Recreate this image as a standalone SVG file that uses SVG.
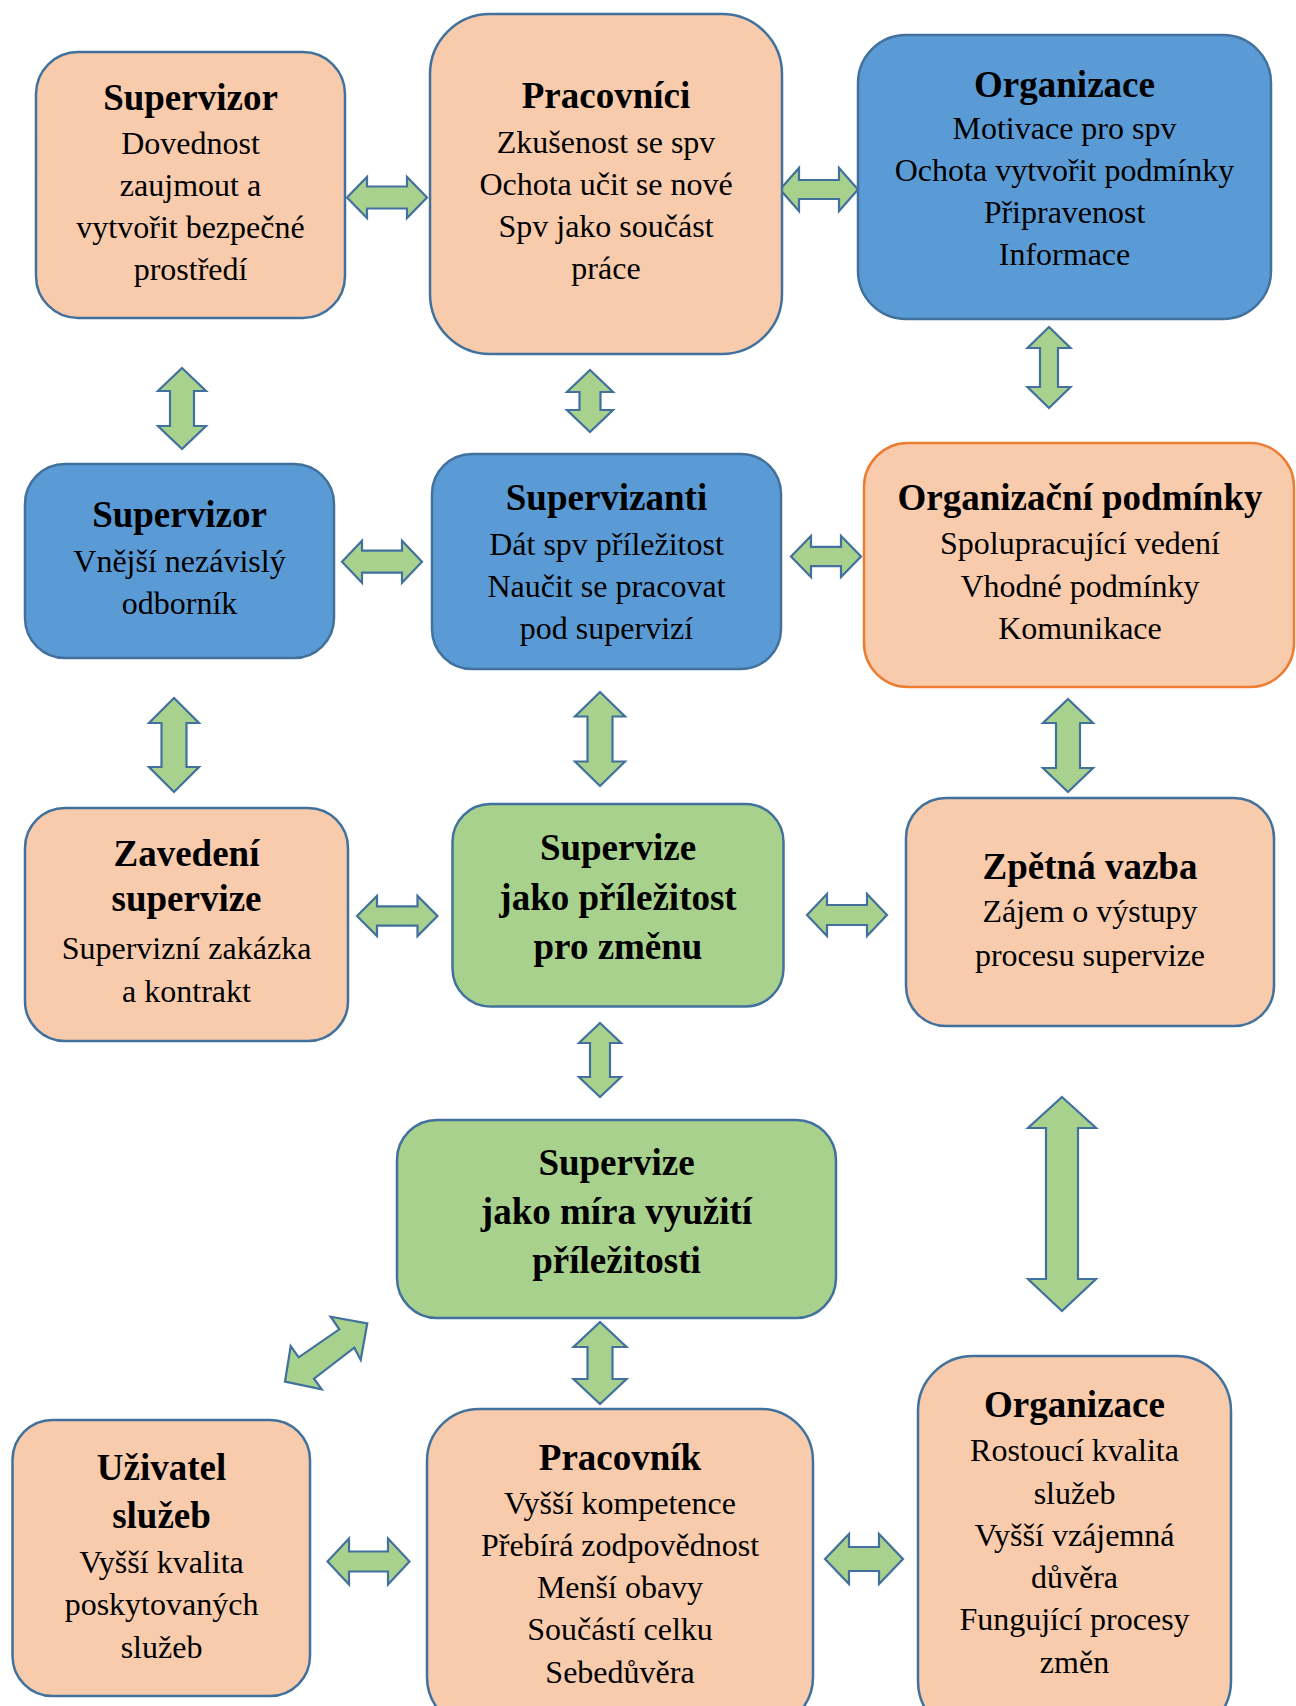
<svg xmlns="http://www.w3.org/2000/svg" width="1296" height="1706" viewBox="0 0 1296 1706">
  <style>
    .peach { fill: #F8CBAD; stroke: #41719C; stroke-width: 2.5; }
    .blue { fill: #5B9BD5; stroke: #41719C; stroke-width: 2.5; }
    .green { fill: #A9D18E; stroke: #41719C; stroke-width: 2.5; }
    .orange { fill: #F8CBAD; stroke: #ED7D31; stroke-width: 2.5; }
    .arrow { fill: #A9D18E; stroke: #41719C; stroke-width: 2.2; stroke-linejoin: miter; }
    text { font-family: "Liberation Serif", "Times New Roman", serif; fill: #000; text-anchor: middle; }
    .t { font-size: 37px; font-weight: bold; }
    .b { font-size: 32px; }
  </style>
  <rect width="1296" height="1706" fill="#FFFFFF"/>

  <!-- connectors: block double arrows -->
  <g id="connectors">
    <!-- horizontal -->
    <polygon class="arrow" points="347,197.5 367,177 367,186.5 407,186.5 407,177 427,197.5 407,218 407,208.5 367,208.5 367,218"/>
    <polygon class="arrow" points="780,189.5 799,168 799,180 839,180 839,168 858,189.5 839,211 839,199 799,199 799,211"/>
    <polygon class="arrow" points="342,561.7 362,540.7 362,550.7 402,550.7 402,540.7 422,561.7 402,582.7 402,572.7 362,572.7 362,582.7"/>
    <polygon class="arrow" points="791,556.5 811,536 811,546.8 841,546.8 841,536 861,556.5 841,577 841,566.2 811,566.2 811,577"/>
    <polygon class="arrow" points="357,916 377,896 377,906.3 417.5,906.3 417.5,896 437.5,916 417.5,936 417.5,925.7 377,925.7 377,936"/>
    <polygon class="arrow" points="807,915 827,894 827,905 867,905 867,894 887,915 867,936 867,925 827,925 827,936"/>
    <polygon class="arrow" points="327.5,1561.5 349,1538.5 349,1551.5 388,1551.5 388,1538.5 409.5,1561.5 388,1584.5 388,1571.5 349,1571.5 349,1584.5"/>
    <polygon class="arrow" points="825,1559 849,1534 849,1547 879,1547 879,1534 903,1559 879,1584 879,1571 849,1571 849,1584"/>
    <!-- vertical -->
    <polygon class="arrow" points="182,368 206,391 194,391 194,426 206,426 182,449 158,426 170,426 170,391 158,391"/>
    <polygon class="arrow" points="590,370 613,392 600.5,392 600.5,410 613,410 590,432 567,410 579.5,410 579.5,392 567,392"/>
    <polygon class="arrow" points="1049,327 1070.5,348 1058,348 1058,387 1070.5,387 1049,408 1027.5,387 1040,387 1040,348 1027.5,348"/>
    <polygon class="arrow" points="174,698 199,723 186.5,723 186.5,767 199,767 174,792 149,767 161.5,767 161.5,723 149,723"/>
    <polygon class="arrow" points="600,692 625,716.5 612.5,716.5 612.5,761.5 625,761.5 600,786 575,761.5 587.5,761.5 587.5,716.5 575,716.5"/>
    <polygon class="arrow" points="1068,699 1093,723 1080,723 1080,768 1093,768 1068,792 1043,768 1056,768 1056,723 1043,723"/>
    <polygon class="arrow" points="600,1023 621,1043 610,1043 610,1077 621,1077 600,1097 579,1077 590,1077 590,1043 579,1043"/>
    <polygon class="arrow" points="1062,1097 1096,1128 1078,1128 1078,1279 1096,1279 1062,1311 1028,1279 1046,1279 1046,1128 1028,1128"/>
    <polygon class="arrow" points="600,1322 626.5,1347 612.5,1347 612.5,1379 626.5,1379 600,1404 573.5,1379 587.5,1379 587.5,1347 573.5,1347"/>
    <!-- diagonal -->
    <polygon class="arrow" points="367.3,1323.3 360.7,1360 354.3,1347.7 314,1378.7 321.7,1389.3 285,1381.7 290.7,1346 298.7,1357.3 339.3,1329.3 330.7,1316.7"/>
  </g>

  <g id="supervizor-top">
    <rect class="peach" x="36" y="52" width="309" height="266" rx="42" ry="42"/>
    <text class="t" x="190.5" y="110">Supervizor</text>
    <text class="b" x="190.5" y="154">Dovednost</text>
    <text class="b" x="190.5" y="196">zaujmout a</text>
    <text class="b" x="190.5" y="238">vytvořit bezpečné</text>
    <text class="b" x="190.5" y="280">prostředí</text>
  </g>

  <g id="pracovnici">
    <rect class="peach" x="430" y="14" width="352" height="340" rx="60" ry="60"/>
    <text class="t" x="606" y="108">Pracovníci</text>
    <text class="b" x="606" y="152.5">Zkušenost se spv</text>
    <text class="b" x="606" y="194.5">Ochota učit se nové</text>
    <text class="b" x="606" y="237">Spv jako součást</text>
    <text class="b" x="606" y="279">práce</text>
  </g>

  <g id="organizace-top">
    <rect class="blue" x="858" y="35" width="413" height="284" rx="48" ry="48"/>
    <text class="t" x="1064.5" y="96.5">Organizace</text>
    <text class="b" x="1064.5" y="138.5">Motivace pro spv</text>
    <text class="b" x="1064.5" y="181">Ochota vytvořit podmínky</text>
    <text class="b" x="1064.5" y="223">Připravenost</text>
    <text class="b" x="1064.5" y="265">Informace</text>
  </g>

  <g id="supervizor-externi">
    <rect class="blue" x="25" y="464" width="309" height="194" rx="40" ry="40"/>
    <text class="t" x="179.5" y="527">Supervizor</text>
    <text class="b" x="179.5" y="571.5">Vnější nezávislý</text>
    <text class="b" x="179.5" y="614">odborník</text>
  </g>

  <g id="supervizanti">
    <rect class="blue" x="432" y="454" width="349" height="215" rx="40" ry="40"/>
    <text class="t" x="606.5" y="510">Supervizanti</text>
    <text class="b" x="606.5" y="554.5">Dát spv příležitost</text>
    <text class="b" x="606.5" y="596.5">Naučit se pracovat</text>
    <text class="b" x="606.5" y="639">pod supervizí</text>
  </g>

  <g id="organizacni-podminky">
    <rect class="orange" x="864" y="443" width="430" height="244" rx="44" ry="44"/>
    <text class="t" x="1080" y="510">Organizační podmínky</text>
    <text class="b" x="1080" y="554">Spolupracující vedení</text>
    <text class="b" x="1080" y="596.5">Vhodné podmínky</text>
    <text class="b" x="1080" y="639">Komunikace</text>
  </g>

  <g id="zavedeni-supervize">
    <rect class="peach" x="25" y="808" width="323" height="233" rx="40" ry="40"/>
    <text class="t" x="186.5" y="866">Zavedení</text>
    <text class="t" x="186.5" y="911">supervize</text>
    <text class="b" x="186.5" y="958.5">Supervizní zakázka</text>
    <text class="b" x="186.5" y="1001.5">a kontrakt</text>
  </g>

  <g id="supervize-prilezitost">
    <rect class="green" x="452.5" y="804" width="331" height="202.5" rx="38" ry="38"/>
    <text class="t" x="618" y="860">Supervize</text>
    <text class="t" x="618" y="910">jako příležitost</text>
    <text class="t" x="618" y="958.5">pro změnu</text>
  </g>

  <g id="zpetna-vazba">
    <rect class="peach" x="906" y="798" width="368" height="228" rx="40" ry="40"/>
    <text class="t" x="1090" y="878.5">Zpětná vazba</text>
    <text class="b" x="1090" y="922">Zájem o výstupy</text>
    <text class="b" x="1090" y="966">procesu supervize</text>
  </g>

  <g id="supervize-mira">
    <rect class="green" x="397" y="1120" width="439" height="198" rx="40" ry="40"/>
    <text class="t" x="616.5" y="1175">Supervize</text>
    <text class="t" x="616.5" y="1224">jako míra využití</text>
    <text class="t" x="616.5" y="1273">příležitosti</text>
  </g>

  <g id="uzivatel-sluzeb">
    <rect class="peach" x="12.5" y="1420" width="297.5" height="276" rx="40" ry="40"/>
    <text class="t" x="161.5" y="1480">Uživatel</text>
    <text class="t" x="161.5" y="1528">služeb</text>
    <text class="b" x="161.5" y="1572.5">Vyšší kvalita</text>
    <text class="b" x="161.5" y="1615">poskytovaných</text>
    <text class="b" x="161.5" y="1657.5">služeb</text>
  </g>

  <g id="pracovnik">
    <rect class="peach" x="427" y="1409" width="386" height="320" rx="52" ry="52"/>
    <text class="t" x="620" y="1469.5">Pracovník</text>
    <text class="b" x="620" y="1513.5">Vyšší kompetence</text>
    <text class="b" x="620" y="1555.5">Přebírá zodpovědnost</text>
    <text class="b" x="620" y="1598">Menší obavy</text>
    <text class="b" x="620" y="1640">Součástí celku</text>
    <text class="b" x="620" y="1682.5">Sebedůvěra</text>
  </g>

  <g id="organizace-bottom">
    <rect class="peach" x="918" y="1356" width="313" height="380" rx="55" ry="55"/>
    <text class="t" x="1074.5" y="1416.5">Organizace</text>
    <text class="b" x="1074.5" y="1461">Rostoucí kvalita</text>
    <text class="b" x="1074.5" y="1503.5">služeb</text>
    <text class="b" x="1074.5" y="1545.5">Vyšší vzájemná</text>
    <text class="b" x="1074.5" y="1588">důvěra</text>
    <text class="b" x="1074.5" y="1630">Fungující procesy</text>
    <text class="b" x="1074.5" y="1672.5">změn</text>
  </g>
</svg>
